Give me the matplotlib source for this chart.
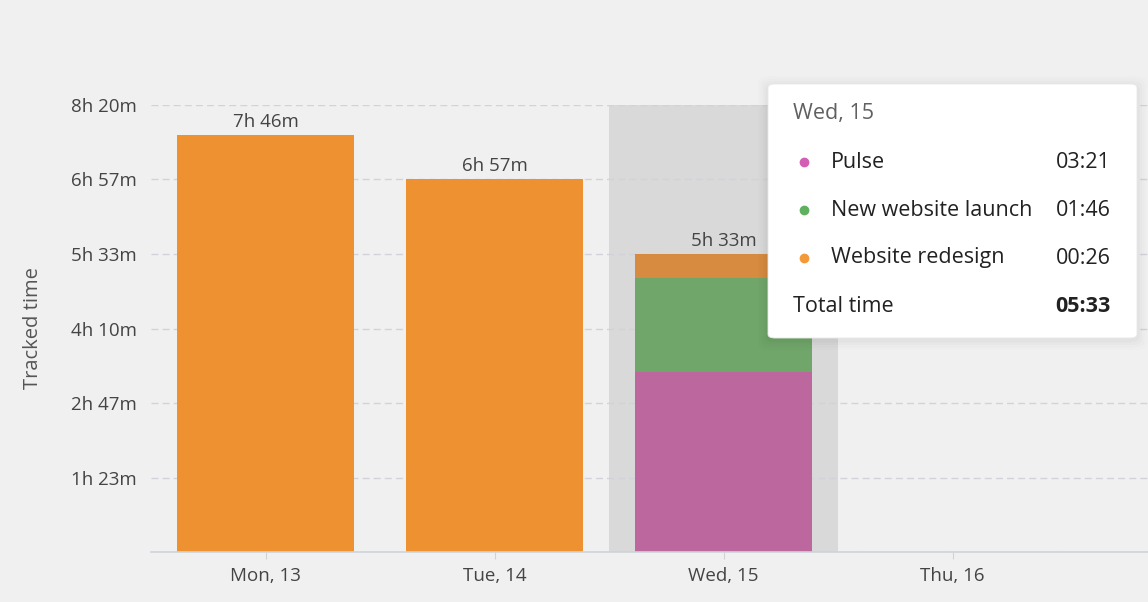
import matplotlib
matplotlib.use("Agg")
import matplotlib.pyplot as plt
from matplotlib.patches import FancyBboxPatch, Rectangle
import numpy as np

days = ["Mon, 13", "Tue, 14", "Wed, 15", "Thu, 16"]
pulse = [0, 0, 201, 0]          # minutes
new_launch = [0, 0, 106, 0]     # minutes
redesign = [466, 417, 26, 0]    # minutes
ytick_minutes = [0, 83.33, 166.67, 250, 333.33, 416.67, 500]
ytick_labels = ["", "1h 23m", "2h 47m", "4h 10m", "5h 33m", "6h 57m", "8h 20m"]
tooltip_title = "Wed, 15"
tooltip_rows = [("Pulse", "03:21"), ("New website launch", "01:46"), ("Website redesign", "00:26")]
tooltip_total = "05:33"

plt.rcParams['font.family'] = ['Open Sans', 'DejaVu Sans']

W, H = 1148, 602
fig = plt.figure(figsize=(W/100, H/100), dpi=100, facecolor="#f0f0f0")
ax = fig.add_axes([151/W, 50/H, (W-151)/W, 447/H])
ax.set_facecolor("#f0f0f0")

x = np.arange(len(days))
bw = 0.77
hl = 2
ax.add_patch(Rectangle((hl-0.5, 0), 1.0, 500, color="#d9d9d9", zorder=0.5, lw=0))

orange_cols = ["#ee9231", "#ee9231", "#d68b40", "#ee9231"]
pink_cols = ["#bc679e"] * 4
green_cols = ["#70a66a"] * 4
ax.bar(x, pulse, width=bw, color=pink_cols, zorder=2)
ax.bar(x, new_launch, width=bw, bottom=pulse, color=green_cols, zorder=2)
bot2 = np.array(pulse) + np.array(new_launch)
ax.bar(x, redesign, width=bw, bottom=bot2, color=orange_cols, zorder=2)

totals = bot2 + np.array(redesign)
for xi, t in zip(x, totals):
    if t > 0:
        ax.annotate(f"{int(t)//60}h {int(t)%60}m", (xi, t), xytext=(0, 3),
                    textcoords="offset points", ha="center", va="bottom",
                    fontsize=13.5, color="#444444", zorder=3)

ax.set_ylim(0, 500)
ax.set_xlim(-0.5, (W-151)/229 - 0.5)
ax.set_yticks(ytick_minutes)
ax.set_yticklabels(ytick_labels, fontsize=13.5, color="#444444")
ax.set_xticks(x)
ax.set_xticklabels(days, fontsize=13.5, color="#444444")
ax.tick_params(axis="y", length=0, pad=10)
ax.tick_params(axis="x", length=5, color="#cfd3d8", pad=6)
for s in ["top", "right", "left"]:
    ax.spines[s].set_visible(False)
ax.spines["bottom"].set_color("#cfd3d8")
ax.spines["bottom"].set_linewidth(1.2)
ax.grid(axis="y", color="#d2d2da", linestyle=(0, (5, 3)), linewidth=1, zorder=1)
ax.set_axisbelow(True)
ax.set_ylabel("Tracked time", fontsize=14.5, color="#555555", labelpad=20)

# tooltip
def fx(px): return px / W
def fy(py): return 1 - py / H
bx0, by0, bx1, by1 = 768, 84, 1137, 338
for i, a in enumerate([0.02, 0.015, 0.01, 0.007]):
    pad = (i + 1) * 2.5
    sh = FancyBboxPatch((fx(bx0 - pad), fy(by1 + pad + 2)), fx(bx1 - bx0 + 2*pad), (by1 - by0 + 2*pad) / H,
                        boxstyle="round,pad=0,rounding_size=0.01", transform=fig.transFigure,
                        facecolor="black", edgecolor="none", alpha=a, zorder=9)
    fig.patches.append(sh)
box = FancyBboxPatch((fx(bx0), fy(by1)), fx(bx1 - bx0), (by1 - by0) / H,
                     boxstyle="round,pad=0,rounding_size=0.006", transform=fig.transFigure,
                     facecolor="white", edgecolor="#e8e8e8", lw=0.6, zorder=10)
fig.patches.append(box)

fig.text(fx(793), fy(113), tooltip_title, fontsize=15.5, color="#606060", va="center", ha="left", zorder=11)
dot_cols = ["#d35fb5", "#5fb15f", "#f39a38"]
for (name, val), yy, c in zip(tooltip_rows, [162, 210, 258], dot_cols):
    fig.text(fx(831), fy(yy), name, fontsize=15.5, color="#222222", va="center", ha="left", zorder=11)
    fig.text(fx(1111), fy(yy), val, fontsize=15.5, color="#222222", va="center", ha="right", zorder=11)
    fig.add_artist(plt.Line2D([fx(804)], [fy(yy)], marker="o", markersize=6, color=c,
                              transform=fig.transFigure, zorder=11))
fig.text(fx(793), fy(307), "Total time", fontsize=15.5, color="#222222", va="center", ha="left", zorder=11)
fig.text(fx(1111), fy(307), tooltip_total, fontsize=15.5, color="#222222", va="center", ha="right",
         fontweight="bold", zorder=11)

fig.savefig("out.png", dpi=100, facecolor=fig.get_facecolor())
